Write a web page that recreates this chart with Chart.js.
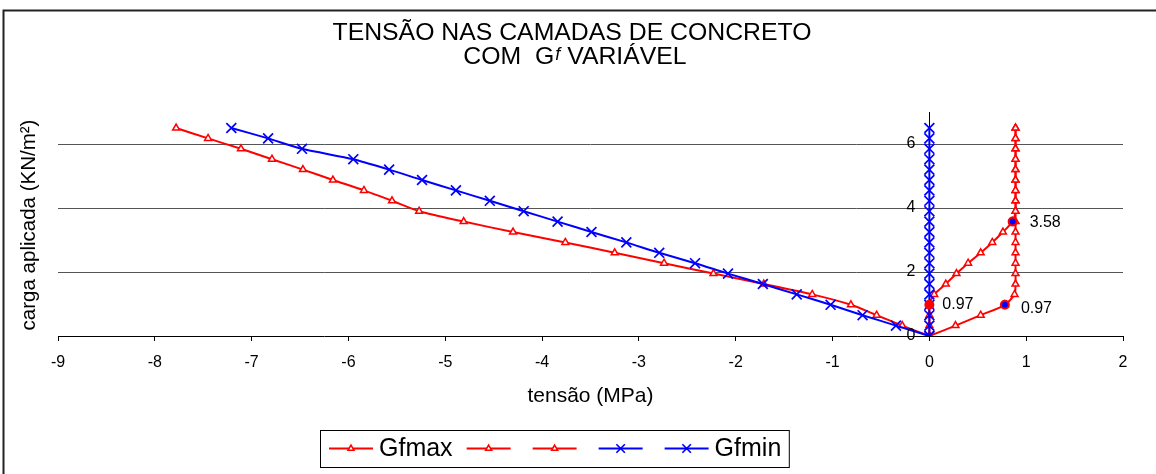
<!DOCTYPE html>
<html>
<head>
<meta charset="utf-8">
<script src="https://cdn.jsdelivr.net/npm/chart.js@4.4.1/dist/chart.umd.min.js"></script>
<style>
  html, body { margin: 0; padding: 0; background: #ffffff; }
  #wrap { width: 1156px; height: 474px; }
</style>
</head>
<body>
<div id="wrap"><canvas id="tensao_chart" width="1156" height="474"></canvas></div>
<script>
// carga aplicada (KN/m2) - same steps for every series
const carga_aplicada = [0, 0.325, 0.65, 0.975, 1.3, 1.625, 1.95, 2.275, 2.6, 2.925, 3.25,
    3.575, 3.9, 4.225, 4.55, 4.875, 5.2, 5.525, 5.85, 6.175, 6.5];

// tensão (MPa)
const gfmax_esquerda = [0, -0.28, -0.545, -0.81, -1.21, -1.71, -2.23, -2.74, -3.25, -3.76, -4.30,
    -4.81, -5.27, -5.55, -5.84, -6.16, -6.47, -6.79, -7.11, -7.45, -7.78];
const gfmax_direita_baixo = [0, 0.27, 0.53, 0.78, 0.88, 0.89, 0.89, 0.89, 0.89, 0.89, 0.89,
    0.89, 0.89, 0.89, 0.89, 0.89, 0.89, 0.89, 0.89, 0.89, 0.89];
const gfmax_direita_cima = [0, 0, 0, 0, 0.05, 0.17, 0.28, 0.40, 0.53, 0.65, 0.76,
    0.86, 0.89, 0.89, 0.89, 0.89, 0.89, 0.89, 0.89, 0.89, 0.89];
const gfmin_vertical = [0, 0, 0, 0, 0, 0, 0, 0, 0, 0, 0,
    0, 0, 0, 0, 0, 0, 0, 0, 0, 0];
const gfmin_esquerda = [0, -0.345, -0.69, -1.02, -1.37, -1.72, -2.08, -2.42, -2.79, -3.13, -3.49,
    -3.84, -4.19, -4.54, -4.89, -5.24, -5.58, -5.95, -6.48, -6.83, -7.21];

// marked points with their labels
const destaque_x = [0, 0.78, 0.86];
const destaque_y = [0.975, 0.975, 3.575];
const destaque_texto = ['0.97', '0.97', '3.58'];
const destaque_fundo = ['#ff0000', '#0000ff', '#0000ff'];

const legenda_nomes = ['Gfmax', '', '', '', 'Gfmin'];
const x_ticks = [-9, -8, -7, -6, -5, -4, -3, -2, -1, 0, 1, 2];
const y_ticks = [0, 2, 4, 6];

const chart_font = '"Liberation Sans", Arial, sans-serif';
const cores = {
    vermelho: '#ff0000',
    azul: '#0000ff',
    grade: '#555555',
    texto: '#000000',
};

function to_points(xs, ys) {
    return xs.map((x, i) => ({ x: x, y: ys[i] }));
}

function red_series(label, xs) {
    return {
        label: label,
        data: to_points(xs, carga_aplicada),
        showLine: true,
        borderColor: cores.vermelho,
        borderWidth: 2,
        tension: 0.25,
        pointStyle: 'triangle',
        pointRadius: 4,
        pointBorderWidth: 1.5,
        pointBorderColor: cores.vermelho,
        pointBackgroundColor: '#ffffff',
        order: 2,
    };
}

function blue_series(label, xs) {
    return {
        label: label,
        data: to_points(xs, carga_aplicada),
        showLine: true,
        borderColor: cores.azul,
        borderWidth: 2,
        tension: 0.25,
        pointStyle: 'crossRot',
        pointRadius: 7,
        pointBorderWidth: 1.7,
        pointBorderColor: cores.azul,
        pointBackgroundColor: cores.azul,
        order: 1,
    };
}

const extras_plugin = {
    id: 'extras_plugin',
    afterDraw(chart) {
        const ctx = chart.ctx;
        const xs = chart.scales.x;
        const ys = chart.scales.y;
        ctx.save();

        // frame (only top and left are visible)
        ctx.strokeStyle = '#222222';
        ctx.lineWidth = 2;
        ctx.beginPath();
        ctx.moveTo(3.5, 474);
        ctx.lineTo(3.5, 10.5);
        ctx.lineTo(1156, 10.5);
        ctx.stroke();

        // title
        ctx.fillStyle = cores.texto;
        ctx.textBaseline = 'alphabetic';
        ctx.textAlign = 'left';
        const title_font = '24.8px ' + chart_font;
        ctx.font = title_font;
        const linha1 = 'TENSÃO NAS CAMADAS DE CONCRETO';
        const w1 = ctx.measureText(linha1).width;
        ctx.fillText(linha1, 572 - w1 / 2, 40);

        const parte_a = 'COM  G';
        const parte_f = 'f';
        const parte_b = ' VARIÁVEL';
        const italic_font = 'italic 18px ' + chart_font;
        const wa = ctx.measureText(parte_a).width;
        const wb = ctx.measureText(parte_b).width;
        ctx.font = italic_font;
        const wf = ctx.measureText(parte_f).width + 1;
        let tx = 575 - (wa + wf + wb) / 2;
        ctx.font = title_font;
        ctx.fillText(parte_a, tx, 64);
        tx += wa;
        ctx.font = italic_font;
        ctx.fillText(parte_f, tx + 1, 60);
        tx += wf;
        ctx.font = title_font;
        ctx.fillText(parte_b, tx, 64);

        // y tick labels, right of them sits the axis at x = 0
        ctx.font = '16px ' + chart_font;
        ctx.textAlign = 'right';
        ctx.textBaseline = 'middle';
        const axis_px = xs.getPixelForValue(0);
        y_ticks.forEach((v) => {
            ctx.fillText(String(v), axis_px - 14, ys.getPixelForValue(v));
        });

        // axis titles
        ctx.font = '21px ' + chart_font;
        ctx.textAlign = 'center';
        ctx.fillText('tensão (MPa)', (chart.chartArea.left + chart.chartArea.right) / 2, 396);
        ctx.save();
        ctx.font = '20.5px ' + chart_font;
        ctx.translate(29, 225);
        ctx.rotate(-Math.PI / 2);
        ctx.fillText('carga aplicada (KN/m²)', 0, 0);
        ctx.restore();

        // labels of marked points
        ctx.font = '16px ' + chart_font;
        ctx.textAlign = 'left';
        const offsets = [[13, 0], [16, 4], [17, 1]];
        destaque_texto.forEach((txt, i) => {
            const px = xs.getPixelForValue(destaque_x[i]);
            const py = ys.getPixelForValue(destaque_y[i]);
            ctx.fillText(txt, px + offsets[i][0], py + offsets[i][1]);
        });

        // legend
        const leg_y = 448.5;
        ctx.font = '25px ' + chart_font;
        let lx = 329;
        const series = chart.data.datasets.slice(0, legenda_nomes.length);
        series.forEach((ds, i) => {
            ctx.strokeStyle = ds.borderColor;
            ctx.lineWidth = 2;
            ctx.beginPath();
            ctx.moveTo(lx, leg_y);
            ctx.lineTo(lx + 44, leg_y);
            ctx.stroke();
            ctx.fillStyle = ds.pointBackgroundColor;
            ctx.strokeStyle = ds.pointBorderColor;
            ctx.lineWidth = ds.pointBorderWidth;
            Chart.helpers.drawPoint(ctx, {
                pointStyle: ds.pointStyle,
                radius: ds.pointStyle === 'triangle' ? 3.5 : 6,
                borderWidth: ds.pointBorderWidth,
                rotation: 0,
            }, lx + 22, leg_y);
            lx += 44;
            if (legenda_nomes[i]) {
                ctx.fillStyle = cores.texto;
                ctx.textAlign = 'left';
                ctx.fillText(legenda_nomes[i], lx + 6, leg_y + 1);
                lx += 6 + ctx.measureText(legenda_nomes[i]).width + 14;
            } else {
                lx += 22;
            }
        });
        const box_right = lx - 14 + 8;
        ctx.strokeStyle = '#000000';
        ctx.lineWidth = 1;
        ctx.strokeRect(320.5, 430.5, box_right - 320.5, 37);

        ctx.restore();
    },
};

const datasets = [
    red_series(legenda_nomes[0], gfmax_esquerda),
    red_series(legenda_nomes[1], gfmax_direita_baixo),
    red_series(legenda_nomes[2], gfmax_direita_cima),
    blue_series(legenda_nomes[3], gfmin_vertical),
    blue_series(legenda_nomes[4], gfmin_esquerda),
    {
        label: 'destaques',
        data: to_points(destaque_x, destaque_y),
        showLine: false,
        pointStyle: 'circle',
        pointRadius: 4,
        pointBorderWidth: 2,
        pointBorderColor: cores.vermelho,
        pointBackgroundColor: destaque_fundo,
        order: 0,
    },
];

new Chart(document.getElementById('tensao_chart').getContext('2d'), {
    type: 'scatter',
    data: { datasets: datasets },
    options: {
        responsive: false,
        animation: false,
        devicePixelRatio: 1,
        layout: { padding: { left: 58, right: 33, top: 112, bottom: 0 } },
        plugins: {
            legend: { display: false },
            title: { display: false },
            tooltip: { enabled: false },
        },
        scales: {
            x: {
                type: 'linear',
                position: 'bottom',
                min: -9,
                max: 2,
                afterBuildTicks: (s) => { s.ticks = x_ticks.map((v) => ({ value: v })); },
                afterFit: (s) => { s.height = 138; },
                grid: { drawOnChartArea: false, drawTicks: true, tickLength: 5, color: '#000000' },
                border: { display: true, color: '#000000', width: 1 },
                ticks: {
                    color: cores.texto,
                    font: { family: chart_font, size: 16 },
                    padding: 12,
                    autoSkip: false,
                    maxRotation: 0,
                },
            },
            y: {
                type: 'linear',
                position: { x: 0 },
                min: 0,
                max: 7,
                afterBuildTicks: (s) => { s.ticks = y_ticks.map((v) => ({ value: v })); },
                grid: {
                    drawTicks: false,
                    lineWidth: 1,
                    color: (c) => (c.tick && c.tick.value === 0 ? 'rgba(0,0,0,0)' : cores.grade),
                },
                border: { display: true, color: '#000000', width: 1 },
                ticks: { display: false },
            },
        },
    },
    plugins: [extras_plugin],
});
</script>
</body>
</html>
